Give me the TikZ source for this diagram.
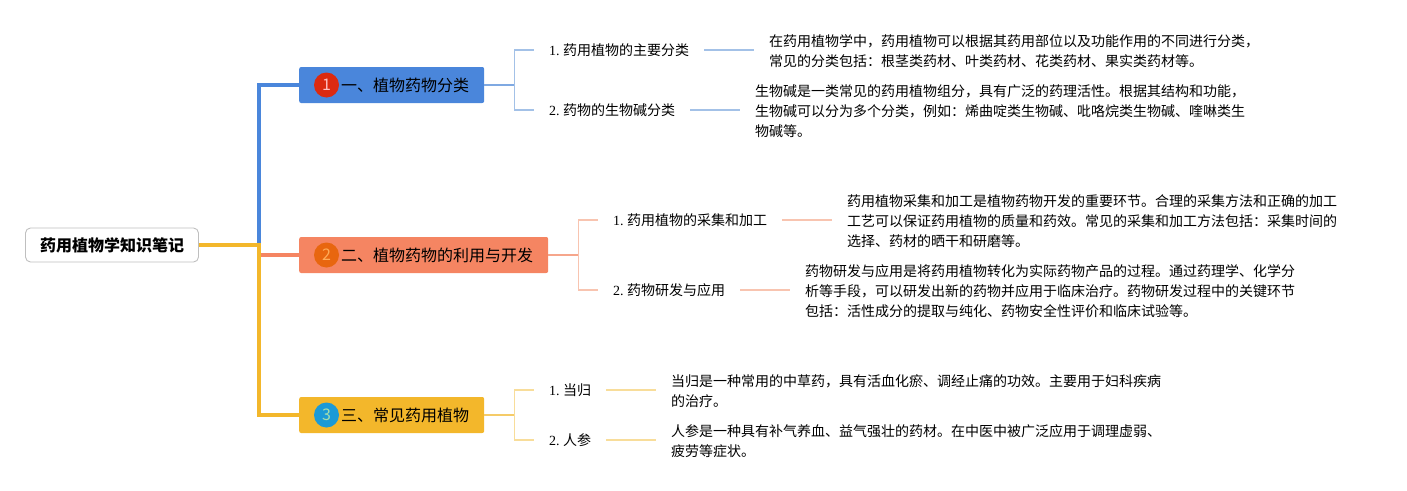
\documentclass[tikz,border=0pt]{standalone}
\usepackage{fontspec}
\setmainfont{Liberation Serif}
\newfontfamily\cjk{Noto Sans CJK SC}
\definecolor{blueA}{HTML}{4A86DB}
\definecolor{blueB}{HTML}{A3C1E7}
\definecolor{blueC}{HTML}{7FA9E2}
\definecolor{coralA}{HTML}{F58562}
\definecolor{coralB}{HTML}{F8C4B0}
\definecolor{coralC}{HTML}{F6A68C}
\definecolor{yellowA}{HTML}{F3B72B}
\definecolor{yellowB}{HTML}{F8DD9A}
\definecolor{yellowC}{HTML}{F5CB68}
\definecolor{badgeA}{HTML}{DC2A10}
\definecolor{badgeB}{HTML}{E8660F}
\definecolor{badgeC}{HTML}{1B9AD6}
\tikzset{
  rootbox/.style={draw=black!25, line width=0.9pt, fill=white, rounded corners=5pt, minimum width=173pt, minimum height=34pt, inner sep=0pt, font=\cjk\bfseries\fontsize{16}{20}\selectfont},
  branch/.style={fill=#1, rounded corners=2pt, anchor=west, minimum height=36pt, inner xsep=15pt, inner ysep=0pt, font=\cjk\fontsize{16}{20}\selectfont},
  badge/.style={circle, fill=#1, minimum size=25pt, inner sep=0pt, font=\cjk\fontsize{16}{20}\selectfont},
  subitem/.style={anchor=west, inner xsep=15pt, inner ysep=0pt, font=\fontsize{14}{20}\selectfont},
  detail/.style={anchor=west, align=left, inner xsep=15pt, inner ysep=0pt, font=\cjk\fontsize{14}{20}\selectfont},
  trunk/.style={draw=#1, line width=4pt},
  twig/.style={draw=#1, line width=1.8pt},
  stem/.style={draw=#1, line width=1.8pt}
}
\begin{document}
\begin{tikzpicture}[x=1pt,y=-1pt]
\useasboundingbox (0,0) rectangle (1407,490);
\newcommand{\trunkx}{259}
\newcommand{\twiglen}{30}

\node [rootbox] (root) at (112,245) {药用植物学知识笔记};
\node [branch=blueA] (b1) at (299,85) {\hspace{27pt}一、植物药物分类};
\node [branch=coralA] (b2) at (299,255) {\hspace{27pt}二、植物药物的利用与开发};
\node [branch=yellowA] (b3) at (299,415) {\hspace{27pt}三、常见药用植物};
\node [badge=badgeA, text=red!25!white] (n1) at (326.5,85) {1};
\node [badge=badgeB, text=orange!65!white] (n2) at (326.5,255) {2};
\node [badge=badgeC, text=yellow!50!cyan!70!white] (n3) at (326.5,415) {3};

\node [subitem] (s11) at (534,50) {1.\hspace{3.5pt}{\cjk 药用植物的主要分类}};
\node [subitem] (s12) at (534,110) {2.\hspace{3.5pt}{\cjk 药物的生物碱分类}};
\node [subitem] (s21) at (598,220) {1.\hspace{3.5pt}{\cjk 药用植物的采集和加工}};
\node [subitem] (s22) at (598,290) {2.\hspace{3.5pt}{\cjk 药物研发与应用}};
\node [subitem] (s31) at (534,390) {1.\hspace{3.5pt}{\cjk 当归}};
\node [subitem] (s32) at (534,440) {2.\hspace{3.5pt}{\cjk 人参}};

\node [detail] (d11) at (754,51) {在药用植物学中，药用植物可以根据其药用部位以及功能作用的不同进行分类，\\常见的分类包括：根茎类药材、叶类药材、花类药材、果实类药材等。};
\node [detail] (d12) at (740,111) {生物碱是一类常见的药用植物组分，具有广泛的药理活性。根据其结构和功能，\\生物碱可以分为多个分类，例如：烯曲啶类生物碱、吡咯烷类生物碱、喹啉类生\\物碱等。};
\node [detail] (d21) at (832,221) {药用植物采集和加工是植物药物开发的重要环节。合理的采集方法和正确的加工\\工艺可以保证药用植物的质量和药效。常见的采集和加工方法包括：采集时间的\\选择、药材的晒干和研磨等。};
\node [detail] (d22) at (790,291) {药物研发与应用是将药用植物转化为实际药物产品的过程。通过药理学、化学分\\析等手段，可以研发出新的药物并应用于临床治疗。药物研发过程中的关键环节\\包括：活性成分的提取与纯化、药物安全性评价和临床试验等。};
\node [detail] (d31) at (656,391) {当归是一种常用的中草药，具有活血化瘀、调经止痛的功效。主要用于妇科疾病\\的治疗。};
\node [detail] (d32) at (656,441) {人参是一种具有补气养血、益气强壮的药材。在中医中被广泛应用于调理虚弱、\\疲劳等症状。};

\coordinate (jn) at (\trunkx,245);
\draw [trunk=blueA] (jn) -- (jn |- b1.west) -- (b1.west);
\draw [trunk=coralA] (jn |- b2.west) -- (b2.west);
\draw [trunk=yellowA] (root.east) -- (jn) -- (jn |- b3.west) -- (b3.west);

\draw [twig=blueB] (b1.east) ++(\twiglen,0) coordinate (f1) |- (s11.west);
\draw [twig=blueB] (f1) |- (s12.west);
\draw [twig=coralB] (b2.east) ++(\twiglen,0) coordinate (f2) |- (s21.west);
\draw [twig=coralB] (f2) |- (s22.west);
\draw [twig=yellowB] (b3.east) ++(\twiglen,0) coordinate (f3) |- (s31.west);
\draw [twig=yellowB] (f3) |- (s32.west);
\draw [stem=blueC] (b1.east) -- (f1);
\draw [stem=coralC] (b2.east) -- (f2);
\draw [stem=yellowC] (b3.east) -- (f3);

\draw [twig=blueB] (s11.east) -- (d11.west |- s11.east);
\draw [twig=blueB] (s12.east) -- (d12.west |- s12.east);
\draw [twig=coralB] (s21.east) -- (d21.west |- s21.east);
\draw [twig=coralB] (s22.east) -- (d22.west |- s22.east);
\draw [twig=yellowB] (s31.east) -- (d31.west |- s31.east);
\draw [twig=yellowB] (s32.east) -- (d32.west |- s32.east);
\end{tikzpicture}
\end{document}
